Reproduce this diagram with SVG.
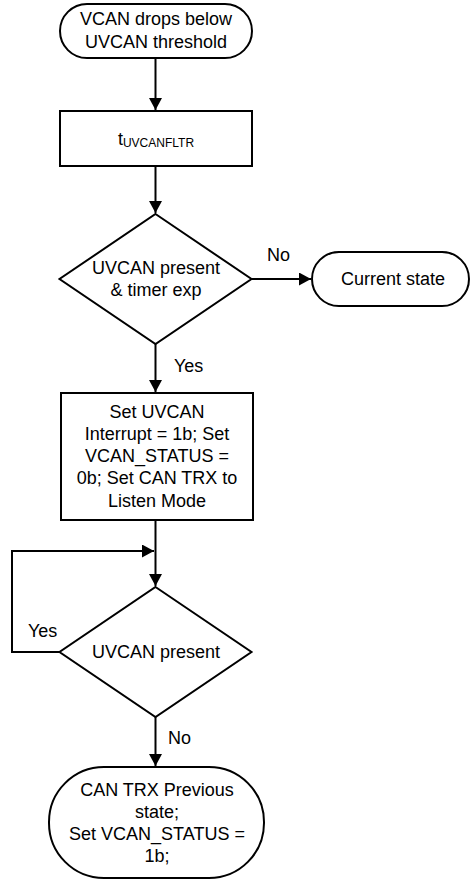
<svg xmlns="http://www.w3.org/2000/svg" width="470" height="881" viewBox="0 0 470 881">
<style>
.s{fill:#fff;stroke:#000;stroke-width:2}
.c{fill:none;stroke:#000;stroke-width:2}
text{font-family:"Liberation Sans",Arial,sans-serif;font-size:18px;fill:#000}
.m{text-anchor:middle}
</style>
<defs>
<marker id="a" markerWidth="13" markerHeight="13" refX="12" refY="6.5" orient="auto" markerUnits="userSpaceOnUse">
<path d="M0,0 L12,6.5 L0,13 Z" fill="#000"/>
</marker>
</defs>
<g id="connectors">
<line class="c" x1="155.5" y1="58" x2="155.5" y2="110" marker-end="url(#a)"/>
<line class="c" x1="155.5" y1="166" x2="155.5" y2="213" marker-end="url(#a)"/>
<line class="c" x1="252" y1="279" x2="311" y2="279" marker-end="url(#a)"/>
<text x="267" y="261">No</text>
<line class="c" x1="155.5" y1="344" x2="155.5" y2="392" marker-end="url(#a)"/>
<text x="174" y="372">Yes</text>
<line class="c" x1="155.5" y1="520" x2="155.5" y2="586" marker-end="url(#a)"/>
<polyline class="c" points="60,652 12,652 12,551 154,551" marker-end="url(#a)"/>
<text x="28" y="637">Yes</text>
<line class="c" x1="155.5" y1="717" x2="155.5" y2="766" marker-end="url(#a)"/>
<text x="168" y="744">No</text>
</g>
<g id="start">
<rect class="s" x="60" y="4" width="192" height="54" rx="27"/>
<text class="m" x="156" y="25">VCAN drops below</text>
<text class="m" x="156" y="48">UVCAN threshold</text>
</g>
<g id="filter">
<rect class="s" x="60" y="111" width="192" height="55"/>
<text class="m" x="156" y="145">t<tspan font-size="12" dy="2">UVCANFLTR</tspan></text>
</g>
<g id="decision1">
<polygon class="s" points="155.5,214 251.5,279 155.5,344 59.5,279"/>
<text class="m" x="156" y="274">UVCAN present</text>
<text class="m" x="156" y="296">&amp; timer exp</text>
</g>
<g id="current">
<rect class="s" x="312" y="252" width="157" height="54" rx="27"/>
<text class="m" x="393" y="285">Current state</text>
</g>
<g id="setbox">
<rect class="s" x="61" y="393" width="192" height="127"/>
<text class="m" x="157" y="418">Set UVCAN</text>
<text class="m" x="157" y="440">Interrupt = 1b; Set</text>
<text class="m" x="157" y="462">VCAN_STATUS =</text>
<text class="m" x="157" y="484">0b; Set CAN TRX to</text>
<text class="m" x="157" y="507">Listen Mode</text>
</g>
<g id="decision2">
<polygon class="s" points="155.5,587 251.5,652 155.5,717 59.5,652"/>
<text class="m" x="156" y="658">UVCAN present</text>
</g>
<g id="end">
<rect class="s" x="49" y="767" width="215" height="111" rx="55"/>
<text class="m" x="157" y="796">CAN TRX Previous</text>
<text class="m" x="157" y="818">state;</text>
<text class="m" x="157" y="840">Set VCAN_STATUS =</text>
<text class="m" x="157" y="862">1b;</text>
</g>
</svg>
